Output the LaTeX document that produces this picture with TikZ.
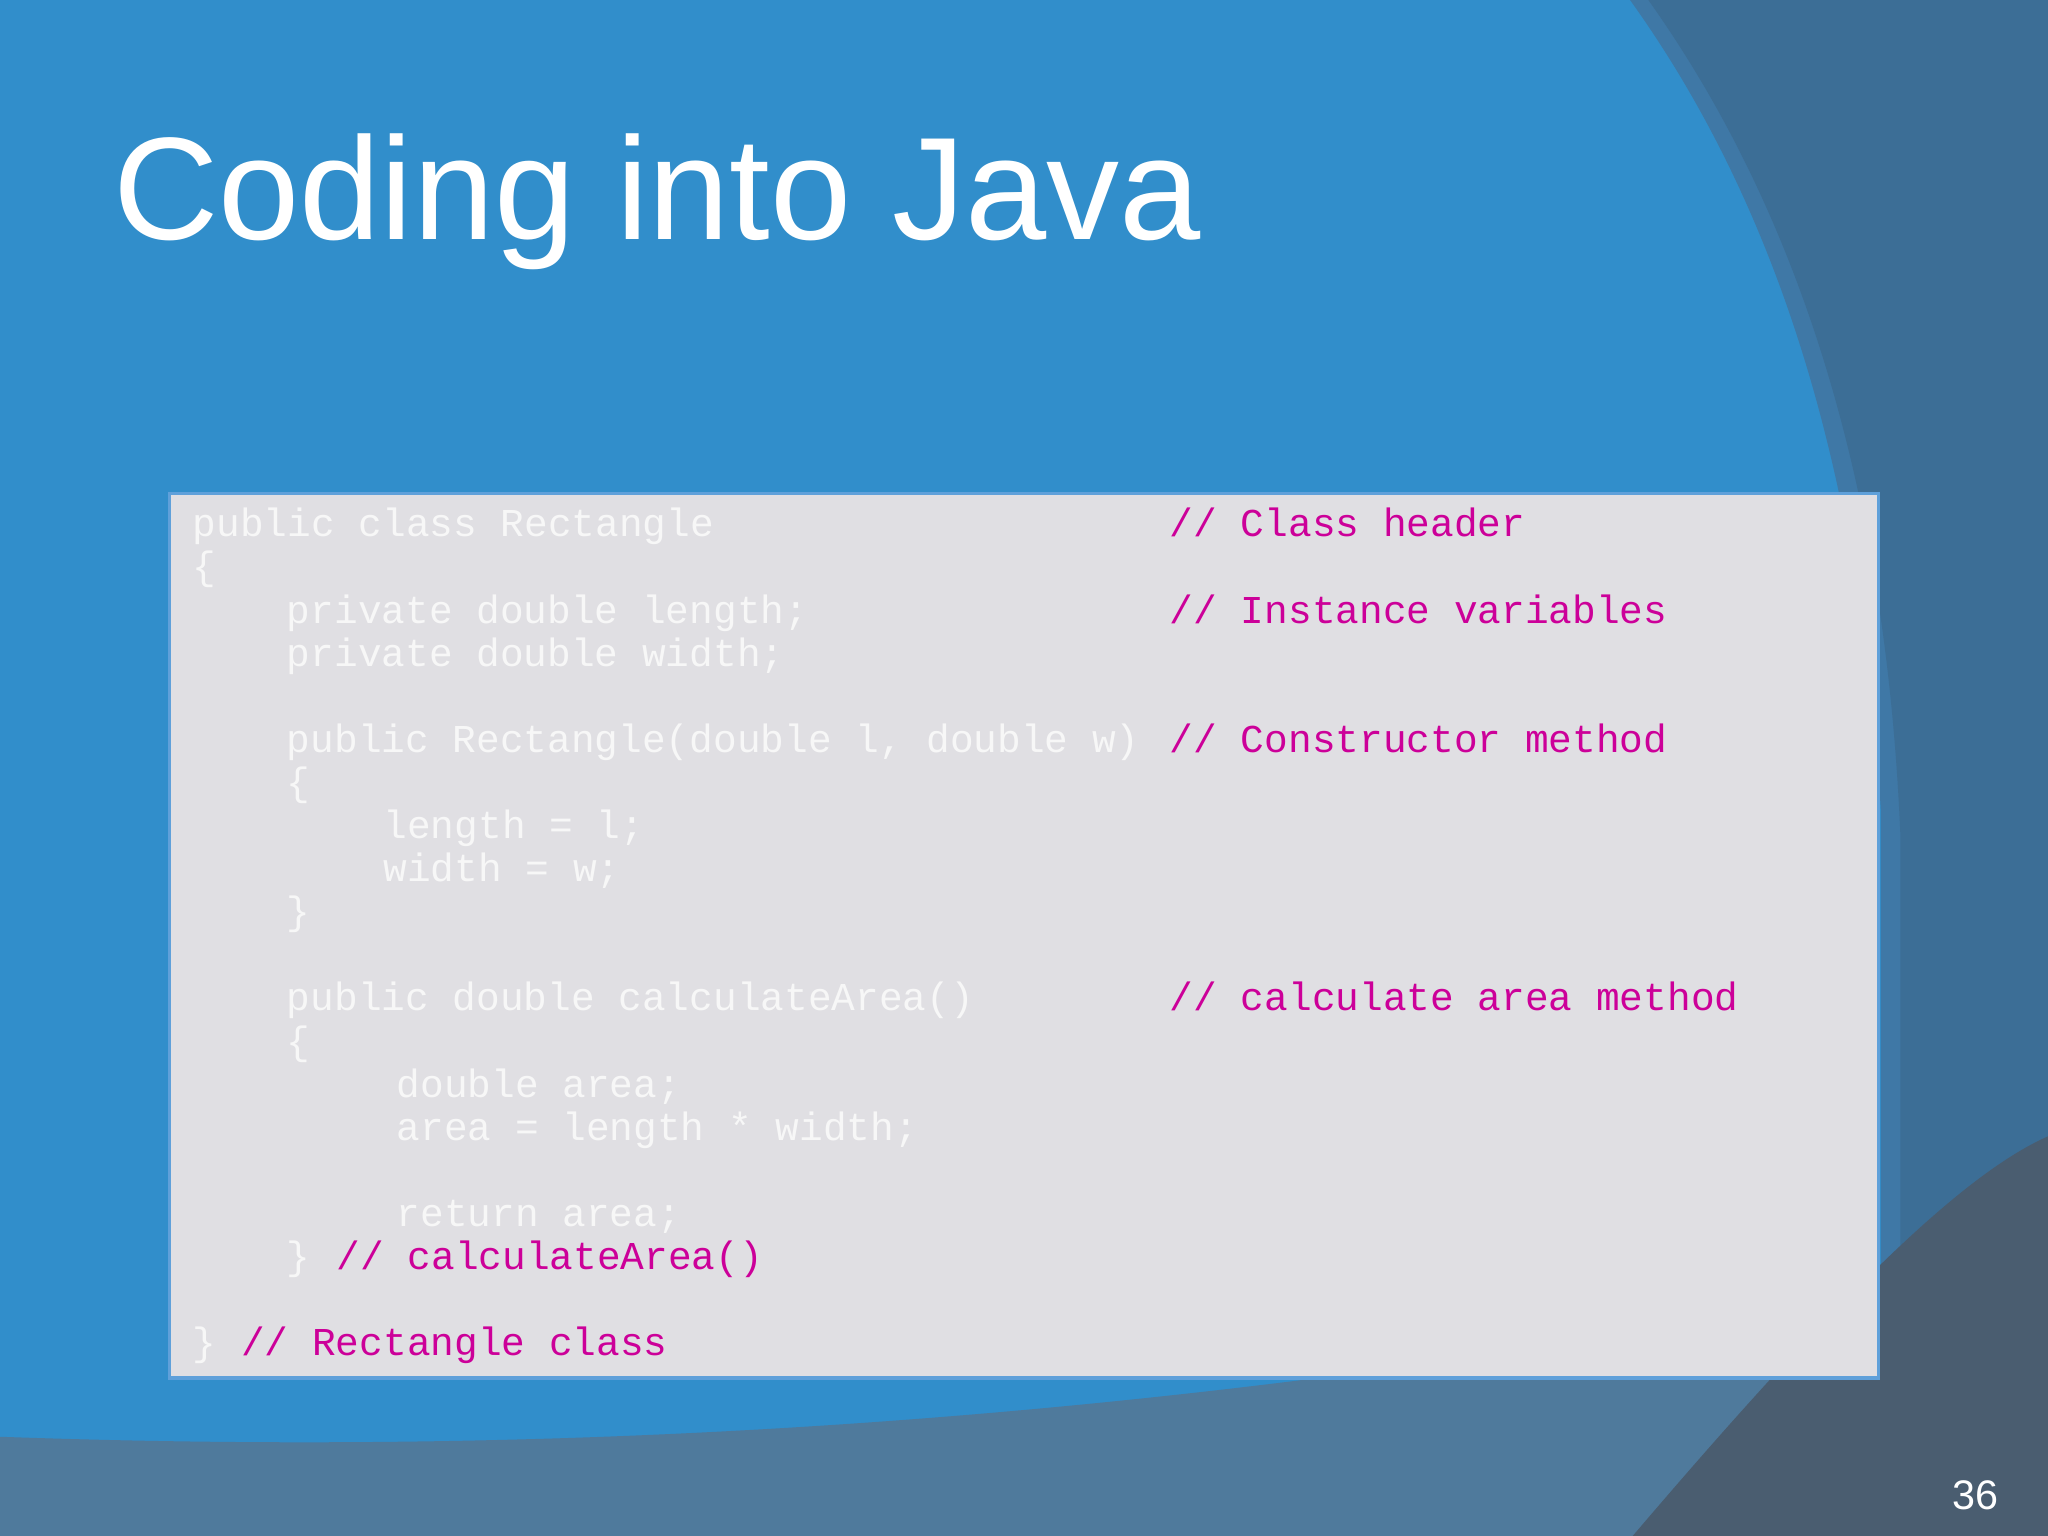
\documentclass[tikz,border=0pt]{standalone}
\usepackage{fontspec}
\setmainfont{Liberation Sans}
\newfontfamily\codefont{Liberation Mono}
\definecolor{bgblue}{HTML}{318ECB}
\definecolor{panel}{HTML}{3C6E96}
\definecolor{panelb}{HTML}{3F78A6}
\definecolor{band}{HTML}{4F7A9C}
\definecolor{corner}{HTML}{4A5D70}
\definecolor{boxfill}{HTML}{E0DFE3}
\definecolor{boxline}{HTML}{5FA0DA}
\definecolor{codec}{HTML}{F7F7F7}
\definecolor{cmt}{HTML}{CC0099}
\begin{document}
\begin{tikzpicture}[x=0.1mm,y=-0.1mm,
  code/.style={anchor=base west,inner sep=0pt,text=codec,font=\codefont\fontsize{8.6pt}{10pt}\selectfont},
  comment/.style={code,text=cmt}]
\useasboundingbox (0,0) rectangle (1568,1176);
\fill[bgblue] (0,0) rectangle (1568,1176);
% right panels
\fill[panelb] (1248,0) .. controls (1370,170) and (1425,380) .. (1440,620) -- (1440,1176) -- (1568,1176) -- (1568,0) -- cycle;
\fill[panel] (1262,0) .. controls (1390,180) and (1445,400) .. (1455,640) -- (1455,1176) -- (1568,1176) -- (1568,0) -- cycle;
% bottom band
\fill[band] (0,1100) .. controls (500,1118) and (1000,1080) .. (1568,960) -- (1568,1176) -- (0,1176) -- cycle;
\fill[corner] (1250,1176) .. controls (1400,1000) and (1500,900) .. (1568,870) -- (1568,1176) -- cycle;
% title
\node[anchor=base west,inner sep=0pt,text=white,font=\fontsize{31.8pt}{36pt}\selectfont] (title) at (86,183) {Coding into Java};
% code box
\draw[boxline,fill=boxfill,line width=0.25mm] (130,378) rectangle (1438,1055);
\node[code] (l1) at (147,411) {public class Rectangle};
\node[comment] (c1) at (895,411) {// Class header};
\node[code] (l2) at (147,444) {\{};
\node[code] (l3) at (219,477) {private double length;};
\node[comment] (c3) at (895,477) {// Instance variables};
\node[code] (l4) at (219,510) {private double width;};
\node[code] (l6) at (219,576) {public Rectangle(double l, double w)};
\node[comment] (c6) at (895,576) {// Constructor method};
\node[code] (l7) at (219,609) {\{};
\node[code] (l8) at (293,642) {length = l;};
\node[code] (l9) at (293,675) {width = w;};
\node[code] (l10) at (219,708) {\}};
\node[code] (l12) at (219,774) {public double calculateArea()};
\node[comment] (c12) at (895,774) {// calculate area method};
\node[code] (l13) at (219,807) {\{};
\node[code] (l14) at (303,840) {double area;};
\node[code] (l15) at (303,873) {area = length * width;};
\node[code] (l17) at (303,939) {return area;};
\node[code] (l18) at (219,972) {\}};
\node[comment] (c18) at (257,972) {// calculateArea()};
\node[code] (l20) at (147,1038) {\}};
\node[comment] (c20) at (184,1038) {// Rectangle class};
\node[anchor=base west,inner sep=0pt,text=white,font=\fontsize{9pt}{11pt}\selectfont] (pg) at (1494,1156) {36};
\end{tikzpicture}
\end{document}
